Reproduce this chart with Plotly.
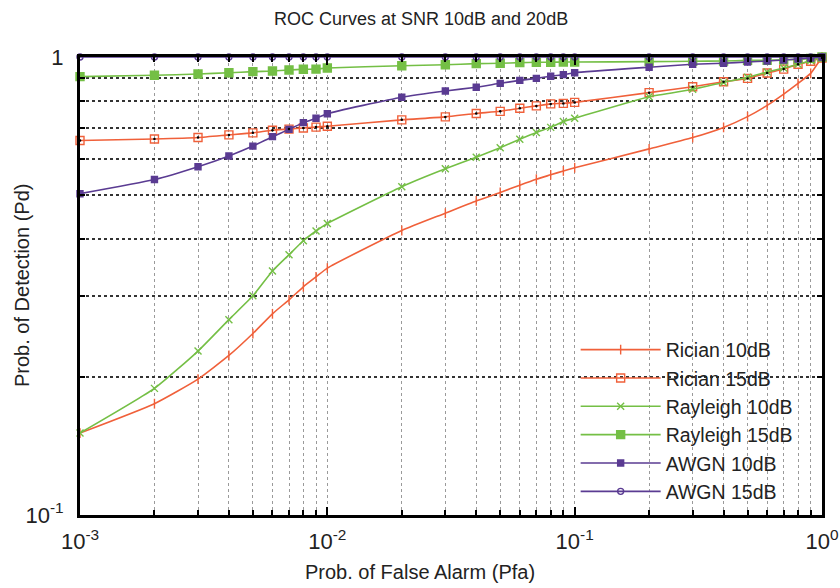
import plotly.graph_objects as go

pfa = [0.001, 0.002, 0.003, 0.004, 0.005, 0.006, 0.007, 0.008, 0.009,
       0.01, 0.02, 0.03, 0.04, 0.05, 0.06, 0.07, 0.08, 0.09,
       0.1, 0.2, 0.3, 0.4, 0.5, 0.6, 0.7, 0.8, 0.9, 1.0]

rician_10 = [0.151, 0.175, 0.198, 0.223, 0.249, 0.275, 0.295, 0.315, 0.331,
             0.346, 0.418, 0.456, 0.485, 0.506, 0.525, 0.541, 0.553, 0.564,
             0.573, 0.630, 0.667, 0.702, 0.741, 0.784, 0.830, 0.876, 0.921, 1.0]
rician_15 = [0.657, 0.662, 0.667, 0.676, 0.683, 0.692, 0.696, 0.700, 0.703,
             0.706, 0.729, 0.740, 0.753, 0.761, 0.773, 0.782, 0.790, 0.792,
             0.796, 0.836, 0.861, 0.883, 0.898, 0.923, 0.941, 0.964, 0.979, 0.995]
rayleigh_10 = [0.151, 0.189, 0.228, 0.267, 0.301, 0.341, 0.370, 0.397, 0.417,
               0.433, 0.521, 0.570, 0.604, 0.634, 0.661, 0.684, 0.702, 0.723,
               0.735, 0.819, 0.850, 0.880, 0.903, 0.927, 0.946, 0.964, 0.982, 1.0]
rayleigh_15 = [0.906, 0.912, 0.918, 0.924, 0.929, 0.932, 0.937, 0.940, 0.941,
               0.946, 0.957, 0.962, 0.967, 0.969, 0.972, 0.974, 0.974, 0.975,
               0.975, 0.977, 0.979, 0.980, 0.983, 0.984, 0.986, 0.988, 0.993, 1.0]
awgn_10 = [0.503, 0.540, 0.576, 0.608, 0.639, 0.670, 0.695, 0.719, 0.735,
           0.752, 0.817, 0.843, 0.859, 0.876, 0.889, 0.898, 0.908, 0.915,
           0.924, 0.950, 0.964, 0.969, 0.975, 0.980, 0.985, 0.990, 0.995, 1.0]
awgn_15 = [1.0] * 28

x_tick_vals = [0.001, 0.01, 0.1, 1]
x_tick_text = ["10<sup>-3</sup>", "10<sup>-2</sup>", "10<sup>-1</sup>", "10<sup>0</sup>"]
y_tick_vals = [0.1, 1]
y_tick_text = ["10<sup>-1</sup>", "1"]

ORANGE = "#F0603A"
GREEN = "#74BF45"
PURPLE = "#5A3B92"
FONT = "Liberation Sans, Arial, sans-serif"

fig = go.Figure()

def add(name, y, color, symbol, size, lw=1.4):
    fig.add_trace(go.Scatter(
        x=pfa, y=y, name=name, mode="lines+markers",
        line=dict(color=color, width=1.6, shape="spline", smoothing=0.5),
        marker=dict(symbol=symbol, size=size, color=color,
                    line=dict(color=color, width=lw)),
        cliponaxis=False,
    ))

add("Rician 10dB", rician_10, ORANGE, "line-ns", 7)
add("Rician 15dB", rician_15, ORANGE, "square-open", 8)
add("Rayleigh 10dB", rayleigh_10, GREEN, "x-thin", 7)
add("Rayleigh 15dB", rayleigh_15, GREEN, "square", 8)
add("AWGN 10dB", awgn_10, PURPLE, "square", 6)
add("AWGN 15dB", awgn_15, PURPLE, "circle-open", 6)

# black centre dots on Rician 15dB squares
fig.add_trace(go.Scatter(x=pfa, y=rician_15, mode="markers", showlegend=False,
                         marker=dict(symbol="circle", size=2.5, color="black"),
                         cliponaxis=False, hoverinfo="skip"))

minor_x = [k * 10 ** e for e in (-3, -2, -1) for k in range(2, 10)]
minor_y = [k / 10 for k in range(2, 10)]

fig.update_xaxes(
    type="log", range=[-3, 0], automargin=False,
    tickvals=x_tick_vals, ticktext=x_tick_text, ticklabelstandoff=5,
    ticks="inside", ticklen=8, tickwidth=1.5, tickcolor="black",
    showline=True, linecolor="black", linewidth=3, mirror="ticks",
    showgrid=True, gridcolor="#9a9a9a", gridwidth=1, griddash="dot",
    minor=dict(tickvals=minor_x, ticks="inside", ticklen=5, tickcolor="black",
               showgrid=True, gridcolor="#9a9a9a", gridwidth=1, griddash="dot"),
    tickfont=dict(family=FONT, size=22, color="#222"),
    zeroline=False,
)
fig.update_yaxes(
    type="log", range=[-1, 0], automargin=False,
    tickvals=y_tick_vals, ticktext=y_tick_text, ticklabelstandoff=9,
    ticks="inside", ticklen=8, tickwidth=1.5, tickcolor="black",
    showline=True, linecolor="black", linewidth=3, mirror="ticks",
    showgrid=True, gridcolor="#333333", gridwidth=1.5, griddash="dot",
    minor=dict(tickvals=minor_y, ticks="inside", ticklen=5, tickcolor="black",
               showgrid=True, gridcolor="#333333", gridwidth=1.5, griddash="dot"),
    tickfont=dict(family=FONT, size=22, color="#222"),
    zeroline=False,
)

fig.update_layout(
    width=840, height=588,
    margin=dict(l=80, r=18, t=57, b=73),
    paper_bgcolor="white", plot_bgcolor="white",
    font=dict(family=FONT, color="#222"),
    showlegend=True,
    legend=dict(x=0.668, y=0.403, xanchor="left", yanchor="top",
                bgcolor="rgba(0,0,0,0)", font=dict(family=FONT, size=19.5, color="#222"),
                itemwidth=80, tracegroupgap=0),
    annotations=[
        dict(text="ROC Curves at SNR 10dB and 20dB", xref="paper", yref="paper",
             x=(421 - 80) / 742, y=1, yshift=38, showarrow=False,
             font=dict(family=FONT, size=18, color="#222"), xanchor="center", yanchor="middle"),
        dict(text="Prob. of False Alarm (Pfa)", xref="paper", yref="paper",
             x=(420 - 80) / 742, y=0, yshift=-57, showarrow=False,
             font=dict(family=FONT, size=20, color="#222"), xanchor="center", yanchor="middle"),
        dict(text="Prob. of Detection (Pd)", xref="paper", yref="paper",
             x=0, xshift=-58, y=0.5, showarrow=False, textangle=-90,
             font=dict(family=FONT, size=20, color="#222"), xanchor="center", yanchor="middle"),
    ],
)

fig.write_html("out.html")
